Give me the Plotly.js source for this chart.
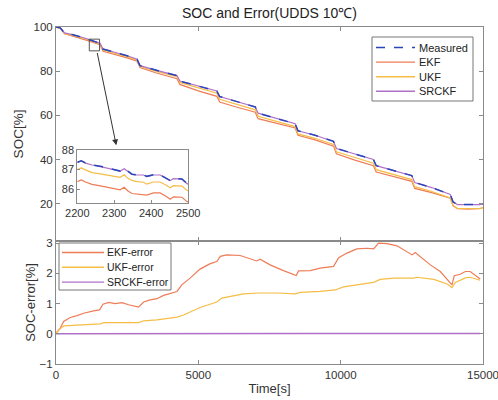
<!DOCTYPE html>
<html>
<head>
<meta charset="utf-8">
<script src="https://cdn.plot.ly/plotly-3.0.1.min.js"></script>
<style>html,body{margin:0;padding:0;background:#fff;}#chart{width:498px;height:400px;}</style>
</head>
<body>
<div id="chart"></div>
<script>
// ---- main SOC data (time in s, SOC in %) ----
const time = [0,150,300,600,1000,1500,1550,1650,2000,2500,2850,2950,3500,4000,4250,4350,5000,5650,5750,6300,7000,7100,7700,8400,8500,9100,9750,9850,10500,11150,11250,11900,12500,12600,13200,13850,13950,14100,14500,14900,15000];
const measured = [100,99.6,97.3,96.5,95.0,93.0,92.6,90.0,88.8,87.0,85.4,82.5,80.5,78.8,78.0,75.5,73.2,71.0,68.5,66.5,63.8,61.0,58.8,56.2,53.0,51.0,48.2,45.0,42.5,40.0,37.2,34.9,32.7,29.6,27.3,24.2,20.8,19.6,19.6,19.6,20.0];
const ekf = [100,99.4,96.9,95.9,94.3,92.2,91.8,89.0,87.8,86.0,84.5,81.6,79.3,77.5,76.6,74.0,71.1,68.6,66.0,63.9,61.4,58.5,56.6,54.3,51.0,48.9,46.0,42.6,39.7,37.2,34.3,32.0,30.1,26.9,25.0,22.5,19.0,17.7,17.5,17.8,18.2];
const ukf = [100,99.4,97.0,96.2,94.7,92.7,92.3,89.6,88.4,86.6,85.0,82.1,80.0,78.3,77.5,74.9,72.4,70.0,67.3,65.2,62.5,59.6,57.4,54.9,51.6,49.6,46.8,43.5,40.9,38.3,35.4,33.1,30.9,27.7,25.5,22.6,19.2,17.9,17.7,17.8,18.2];
const srckf = [100,99.6,97.3,96.5,95.0,93.0,92.6,90.0,88.8,87.0,85.4,82.5,80.5,78.8,78.0,75.5,73.2,71.0,68.5,66.5,63.8,61.0,58.8,56.2,53.0,51.0,48.2,45.0,42.5,40.0,37.2,34.9,32.7,29.6,27.3,24.2,20.8,19.6,19.6,19.6,20.0];

// ---- error data ----
const ekfErrTime = [0,150,270,500,740,970,1320,1530,1650,1850,2080,2320,2550,2900,3080,3310,3545,3780,4250,4420,4710,5060,5420,5650,5770,6000,6470,6820,7050,7170,7520,7990,8340,8440,8520,8930,9280,9750,9930,10220,10570,10920,11160,11330,11630,11980,12510,12620,13150,13500,13910,13990,14200,14380,14550,14900];
const ekfErr = [0.02,0.19,0.41,0.54,0.60,0.68,0.76,0.79,0.98,1.04,1.00,1.03,0.96,0.88,1.05,1.12,1.16,1.27,1.40,1.62,1.84,2.14,2.32,2.39,2.56,2.61,2.59,2.48,2.41,2.47,2.28,2.09,1.97,1.93,2.08,2.09,2.17,2.23,2.52,2.67,2.81,2.83,2.81,3.00,2.98,2.91,2.61,2.69,2.28,2.06,1.62,1.92,1.97,2.06,2.06,1.81];
const ukfErrTime = [0,150,270,740,1560,1680,2260,2900,3080,3545,4250,4480,5060,5650,5820,6230,6590,7110,7760,8400,8580,9280,9810,10100,10570,11160,11390,11870,12570,12680,13270,13740,13910,14030,14380,14550,14900];
const ukfErr = [0.0,0.17,0.26,0.29,0.33,0.37,0.38,0.37,0.43,0.46,0.55,0.62,0.87,1.05,1.18,1.25,1.32,1.35,1.35,1.32,1.37,1.40,1.45,1.55,1.62,1.70,1.80,1.84,1.84,1.87,1.80,1.65,1.53,1.70,1.85,1.87,1.77];
const srckfErrTime = [0,3000,6000,9000,12000,14900];
const srckfErr = [0.0,0.01,0.01,0.01,0.01,0.01];

// ---- zoomed inset data ----
const zoomTime = [2200,2211,2222,2240,2266,2284,2298,2316,2327,2337,2348,2361,2379,2388,2406,2424,2442,2451,2460,2474,2483,2496,2500];
const zoomMeasured = [87.37,87.45,87.34,87.24,87.15,87.08,86.99,86.92,87.05,86.89,86.76,86.73,86.73,86.65,86.73,86.73,86.54,86.44,86.54,86.54,86.52,86.30,86.26];
const zoomEKF = [86.38,86.47,86.36,86.24,86.15,86.08,86.01,85.96,86.09,85.90,85.77,85.74,85.72,85.69,85.80,85.80,85.60,85.48,85.60,85.61,85.58,85.37,85.33];
const zoomUKF = [87.00,87.08,86.98,86.84,86.76,86.70,86.65,86.60,86.73,86.55,86.44,86.38,86.35,86.25,86.36,86.36,86.18,86.06,86.17,86.17,86.15,85.94,85.92];
const zoomSRCKF = [87.36,87.44,87.33,87.23,87.14,87.07,86.98,86.92,87.04,86.88,86.75,86.72,86.72,86.64,86.72,86.72,86.53,86.43,86.53,86.53,86.51,86.29,86.25];

// ---- ticks / labels ----
const socTicks = [20,40,60,80,100];
const errTicks = [-1,0,1,2,3];
const timeTicks = [0,5000,10000,15000];
const zoomXTicks = [2200,2300,2400,2500];
const zoomYTicks = [86,87,88];
const socNames = ['Measured','EKF','UKF','SRCKF'];
const errNames = ['EKF-error','UKF-error','SRCKF-error'];
const zoomBox = {t0:1170, t1:1530, s0:89.2, s1:94.5};
const arrowFrom = {t:1439, s:88.9};
const arrowTo = {t:2117, s:46.4};

const C_MEAS = '#2a46b8', C_EKF = '#ee7c56', C_UKF = '#f5bd45', C_SR = '#b070c8';
const socColors = [C_MEAS, C_EKF, C_UKF, C_SR];
const socDash = ['dash','solid','solid','solid'];
const errColors = [C_EKF, C_UKF, C_SR];
const FONT = '"Liberation Sans", Arial, sans-serif';

const traces = [
  {x: time, y: ekf, name: socNames[1], type: 'scatter', mode: 'lines', line: {color: C_EKF, width: 1.2}, xaxis: 'x', yaxis: 'y'},
  {x: time, y: ukf, name: socNames[2], type: 'scatter', mode: 'lines', line: {color: C_UKF, width: 1.2}, xaxis: 'x', yaxis: 'y'},
  {x: time, y: srckf, name: socNames[3], type: 'scatter', mode: 'lines', line: {color: C_SR, width: 1.2}, xaxis: 'x', yaxis: 'y'},
  {x: time, y: measured, name: socNames[0], type: 'scatter', mode: 'lines', line: {color: C_MEAS, width: 1.5, dash: 'dash'}, xaxis: 'x', yaxis: 'y'},

  {x: ekfErrTime, y: ekfErr, name: errNames[0], type: 'scatter', mode: 'lines', line: {color: C_EKF, width: 1.2}, xaxis: 'x2', yaxis: 'y2'},
  {x: ukfErrTime, y: ukfErr, name: errNames[1], type: 'scatter', mode: 'lines', line: {color: C_UKF, width: 1.2}, xaxis: 'x2', yaxis: 'y2'},
  {x: srckfErrTime, y: srckfErr, name: errNames[2], type: 'scatter', mode: 'lines', line: {color: C_SR, width: 1.6}, xaxis: 'x2', yaxis: 'y2'},

  {x: zoomTime, y: zoomEKF, type: 'scatter', mode: 'lines', line: {color: C_EKF, width: 1.2}, xaxis: 'x3', yaxis: 'y3'},
  {x: zoomTime, y: zoomUKF, type: 'scatter', mode: 'lines', line: {color: C_UKF, width: 1.2}, xaxis: 'x3', yaxis: 'y3'},
  {x: zoomTime, y: zoomSRCKF, type: 'scatter', mode: 'lines', line: {color: C_SR, width: 1.2}, xaxis: 'x3', yaxis: 'y3'},
  {x: zoomTime, y: zoomMeasured, type: 'scatter', mode: 'lines', line: {color: C_MEAS, width: 1.5, dash: 'dash'}, xaxis: 'x3', yaxis: 'y3'}
];

const axBase = {
  showline: true, linecolor: '#8a8a8a', linewidth: 1, mirror: 'ticks',
  ticks: 'inside', ticklen: 4, tickcolor: '#8a8a8a', showgrid: false, zeroline: false,
  tickformat: 'd', ticklabeloverflow: 'allow',
  tickfont: {family: FONT, size: 11.5, color: '#333'}
};

// plot area in pixels (for legend boxes placed in paper coordinates)
const W = 498, H = 400, ML = 56, MR = 15, MT = 27, MB = 36;
const PW = W - ML - MR, PH = H - MT - MB;
const px = v => (v - ML) / PW;
const py = v => (H - MB - v) / PH;

const shapes = [
  {type: 'rect', xref: 'x', yref: 'y', x0: zoomBox.t0, x1: zoomBox.t1, y0: zoomBox.s0, y1: zoomBox.s1, line: {color: '#555', width: 1}}
];
const annotations = [
  {xref: 'x', yref: 'y', axref: 'x', ayref: 'y', x: arrowTo.t, y: arrowTo.s, ax: arrowFrom.t, ay: arrowFrom.s,
   text: '', showarrow: true, arrowhead: 2, arrowsize: 1.2, arrowwidth: 1, arrowcolor: '#333'}
];

function addLegend(names, colors, dashes, box, rowTop, rowGap, lineX0, lineX1, textX, fsize) {
  shapes.push({type: 'rect', xref: 'paper', yref: 'paper', x0: px(box.l), x1: px(box.r), y0: py(box.b), y1: py(box.t),
    line: {color: '#777', width: 1}, fillcolor: '#fff', layer: 'above'});
  names.forEach((n, i) => {
    const yy = rowTop + i * rowGap;
    shapes.push({type: 'line', xref: 'paper', yref: 'paper', x0: px(lineX0), x1: px(lineX1), y0: py(yy), y1: py(yy),
      line: {color: colors[i], width: dashes[i] === 'dash' ? 1.6 : 1.4, dash: dashes[i]}, layer: 'above'});
    annotations.push({xref: 'paper', yref: 'paper', x: px(textX), y: py(yy), xanchor: 'left', yanchor: 'middle',
      text: n, showarrow: false, font: {family: FONT, size: fsize, color: '#222'}});
  });
}
addLegend(socNames, socColors, socDash, {l: 372, r: 473, t: 37, b: 101}, 47.5, 14.6, 376, 415, 417, 11);
addLegend(errNames, errColors, ['solid','solid','solid'], {l: 59, r: 171, t: 243, b: 290}, 252.5, 14.8, 62, 104, 105, 10.5);

const layout = {
  width: W, height: H, showlegend: false,
  margin: {l: ML, r: MR, t: MT, b: MB},
  paper_bgcolor: '#fff', plot_bgcolor: '#fff',
  font: {family: FONT, size: 12, color: '#333'},
  title: {text: 'SOC and Error(UDDS 10℃)', font: {family: FONT, size: 14, color: '#222'}, x: 0.5, xref: 'paper', y: 0.968, yref: 'container', yanchor: 'middle'},
  xaxis: Object.assign({}, axBase, {domain: [0, 1], range: [0, 15000], anchor: 'y', showticklabels: false, tickvals: timeTicks, matches: 'x2'}),
  yaxis: Object.assign({}, axBase, {domain: [0.365, 1], range: [3.1, 100], anchor: 'x', tickvals: socTicks,
    title: {text: 'SOC[%]', font: {family: FONT, size: 13.5, color: '#333'}, standoff: 6}}),
  xaxis2: Object.assign({}, axBase, {domain: [0, 1], range: [0, 15000], anchor: 'y2', tickvals: timeTicks,
    title: {text: 'Time[s]', font: {family: FONT, size: 13, color: '#333'}, standoff: 4}}),
  yaxis2: Object.assign({}, axBase, {domain: [0, 0.365], range: [-1, 3.07], anchor: 'x2', tickvals: errTicks,
    title: {text: 'SOC-error[%]', font: {family: FONT, size: 13, color: '#333'}, standoff: 1}}),
  xaxis3: Object.assign({}, axBase, {domain: [0.0498, 0.3096], range: [2200, 2500], anchor: 'y3', tickvals: zoomXTicks, mirror: true, ticks: 'inside', ticklen: 3, tickfont: {family: FONT, size: 11, color: '#333'}}),
  yaxis3: Object.assign({}, axBase, {domain: [0.4786, 0.635], range: [85.3, 88], anchor: 'x3', tickvals: zoomYTicks, mirror: true, ticks: 'inside', ticklen: 3, tickfont: {family: FONT, size: 11, color: '#333'}}),
  shapes: shapes,
  annotations: annotations
};

Plotly.newPlot('chart', traces, layout, {staticPlot: true, displayModeBar: false});
</script>
</body>
</html>
